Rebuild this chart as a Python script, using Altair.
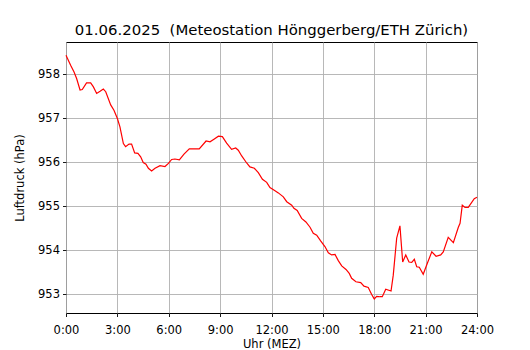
import altair as alt
import pandas as pd

title_text = "01.06.2025 \u00a0(Meteostation Hönggerberg/ETH Zürich)"

hours = [0, 0.27, 0.47, 0.62, 0.82, 0.95, 1.2, 1.44, 1.6, 1.79,
         1.99, 2.18, 2.32, 2.61, 2.8, 3.0, 3.15, 3.35, 3.48, 3.68,
         3.83, 4.01, 4.2, 4.36, 4.51, 4.67, 4.81, 5.0, 5.2, 5.49,
         5.78, 5.98, 6.17, 6.36, 6.62, 6.89, 7.2, 7.43, 7.78, 8.18,
         8.41, 8.64, 8.9, 9.13, 9.38, 9.67, 9.91, 10.06, 10.26, 10.55,
         10.74, 11.0, 11.23, 11.47, 11.72, 11.91, 12.16, 12.4, 12.69, 12.89,
         13.18, 13.31, 13.5, 13.76, 14.01, 14.25, 14.44, 14.64, 14.87, 15.12,
         15.32, 15.51, 15.71, 15.9, 16.1, 16.35, 16.54, 16.68, 16.93, 17.21,
         17.4, 17.65, 17.85, 18.0, 18.14, 18.34, 18.47, 18.67, 18.98, 19.11,
         19.31, 19.5, 19.66, 19.84, 20.03, 20.19, 20.34, 20.48, 20.63, 20.86,
         21.1, 21.36, 21.61, 21.88, 22.03, 22.32, 22.62, 22.91, 23.01, 23.14,
         23.3, 23.49, 23.84, 24.0]

pressure = [958.43, 958.2, 958.05, 957.9, 957.64, 957.65, 957.8, 957.8, 957.71, 957.56,
            957.61, 957.66, 957.6, 957.3, 957.18, 956.99, 956.8, 956.42, 956.35, 956.41,
            956.41, 956.21, 956.2, 956.12, 955.99, 955.95, 955.86, 955.8, 955.86, 955.92,
            955.9, 955.97, 956.06, 956.07, 956.05, 956.18, 956.3, 956.3, 956.3, 956.48,
            956.46, 956.52, 956.59, 956.58, 956.43, 956.29, 956.32, 956.27, 956.14, 955.98,
            955.89, 955.86, 955.76, 955.61, 955.54, 955.42, 955.36, 955.3, 955.21, 955.1,
            955.02, 954.95, 954.9, 954.72, 954.64, 954.52, 954.38, 954.34, 954.21, 954.08,
            953.94, 953.89, 953.9, 953.76, 953.64, 953.56, 953.47, 953.36, 953.28, 953.26,
            953.18, 953.15, 952.99, 952.89, 952.95, 952.94, 952.94, 953.11, 953.07, 953.43,
            954.27, 954.55, 953.73, 953.89, 953.73, 953.72, 953.79, 953.62, 953.61, 953.45,
            953.7, 953.96, 953.86, 953.89, 953.96, 954.29, 954.17, 954.52, 954.61, 955.02,
            954.97, 954.97, 955.17, 955.2]

x_ticks = [0, 3, 6, 9, 12, 15, 18, 21, 24]
y_ticks = [953, 954, 955, 956, 957, 958]
y_domain = [952.57, 958.73]

df = pd.DataFrame({"h": hours, "p": pressure})

FONT = "DejaVu Sans"

chart = alt.Chart(df).mark_line(color="#ff0000", strokeWidth=1.2).encode(
    x=alt.X("h:Q",
            scale=alt.Scale(domain=[0, 24], nice=False, zero=False),
            axis=alt.Axis(values=x_ticks, labelExpr="datum.value + ':00'",
                          title="Uhr (MEZ)", titlePadding=2, labelPadding=8)),
    y=alt.Y("p:Q",
            scale=alt.Scale(domain=y_domain, nice=False, zero=False),
            axis=alt.Axis(values=y_ticks, format="d",
                          title="Luftdruck (hPa)", titlePadding=12, labelPadding=3)),
).properties(
    width=411, height=271,
    title=alt.TitleParams(title_text, fontSize=14.9, font=FONT, fontWeight="normal",
                          color="black", offset=4, anchor="middle"),
    autosize=alt.AutoSizeParams(type="none"),
    padding={"left": 58, "top": 34, "right": 45, "bottom": 40},
).configure_view(
    stroke="black", strokeWidth=1
).configure_axis(
    domain=False,
    grid=True, gridColor="#b0b0b0", gridWidth=0.9,
    ticks=True, tickColor="black", tickSize=3.5, tickWidth=0.9,
    labelFont=FONT, labelFontSize=11.5, labelColor="black",
    titleFont=FONT, titleFontSize=11.5, titleFontWeight="normal", titleColor="black",
    labelFlush=False,
)

chart.save("out.html", embed_options={"renderer": "svg", "actions": False})
